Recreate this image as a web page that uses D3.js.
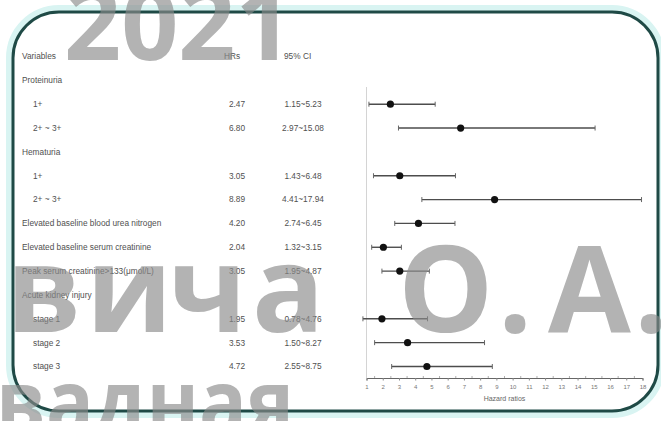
<!DOCTYPE html>
<html>
<head>
<meta charset="utf-8">
<script src="https://cdn.jsdelivr.net/npm/d3@7/dist/d3.min.js"></script>
<style>
  html, body { margin: 0; padding: 0; background: #ffffff; }
  svg { display: block; }
</style>
</head>
<body>
<svg id="chart" width="661" height="421"></svg>
<script>
// Forest plot rows (group headers carry no estimate)
const rowLabels = [
  "Proteinuria", "1+", "2+ ~ 3+",
  "Hematuria", "1+", "2+ ~ 3+",
  "Elevated baseline blood urea nitrogen",
  "Elevated baseline serum creatinine",
  "Peak serum creatinine>133(μmol/L)",
  "Acute kidney injury", "stage 1", "stage 2", "stage 3"
];
const rowIndent = [0, 1, 1, 0, 1, 1, 0, 0, 0, 0, 1, 1, 1];
const hazardRatios = [null, 2.47, 6.80, null, 3.05, 8.89, 4.20, 2.04, 3.05, null, 1.95, 3.53, 4.72];
const ciLower      = [null, 1.15, 2.97, null, 1.43, 4.41, 2.74, 1.32, 1.95, null, 0.78, 1.50, 2.55];
const ciUpper      = [null, 5.23, 15.08, null, 6.48, 17.94, 6.45, 3.15, 4.87, null, 4.76, 8.27, 8.75];
const columnHeaders = ["Variables", "HRs", "95% CI"];
const axisTickValues = d3.range(1, 19);
const axisTitle = "Hazard ratios";
const watermarks = ["2021", "овича О.А.", "вадная"];

const svg = d3.select("#chart");

// Frame glow and border
const frame = { x: 13, y: 12, w: 645, h: 399, r: 46 };
svg.append("rect")
  .attr("x", frame.x - 3).attr("y", frame.y - 3)
  .attr("width", frame.w + 6).attr("height", frame.h + 6)
  .attr("rx", frame.r + 3)
  .attr("fill", "none").attr("stroke", "#d9f4f2").attr("stroke-width", 8);
svg.append("rect")
  .attr("x", frame.x).attr("y", frame.y)
  .attr("width", frame.w).attr("height", frame.h)
  .attr("rx", frame.r)
  .attr("fill", "#ffffff").attr("stroke", "#1f4a46").attr("stroke-width", 3);

// Scales
const x = d3.scaleLinear().domain([1, 18]).range([366.5, 642.5]);
const y = d3.scalePoint().domain(d3.range(0, rowLabels.length + 1)).range([56.5, 366.5]);
const rowY = i => y(i + 1);
const axisY = 378;

const textColor = "#505050";
const font = "'Liberation Sans', Arial, sans-serif";

// Column headers
const headerX = [22, 224, 284];
svg.append("g").selectAll("text").data(columnHeaders).join("text")
  .attr("x", (d, i) => headerX[i]).attr("y", y(0))
  .attr("dy", "0.35em")
  .attr("font-family", font).attr("font-size", 8.3)
  .attr("fill", textColor).text(d => d);

// Row labels
const rows = svg.append("g");
rows.selectAll("text.lab").data(rowLabels).join("text")
  .attr("class", "lab")
  .attr("x", (d, i) => rowIndent[i] ? 33 : 22)
  .attr("y", (d, i) => rowY(i)).attr("dy", "0.35em")
  .attr("font-family", font).attr("font-size", 8.3)
  .attr("fill", textColor).text(d => d);

const idx = d3.range(rowLabels.length).filter(i => hazardRatios[i] !== null);

rows.selectAll("text.hr").data(idx).join("text")
  .attr("class", "hr")
  .attr("x", 237).attr("y", i => rowY(i)).attr("dy", "0.35em")
  .attr("text-anchor", "middle")
  .attr("font-family", font).attr("font-size", 8.3)
  .attr("fill", textColor).text(i => hazardRatios[i].toFixed(2));

rows.selectAll("text.ci").data(idx).join("text")
  .attr("class", "ci")
  .attr("x", 303).attr("y", i => rowY(i)).attr("dy", "0.35em")
  .attr("text-anchor", "middle")
  .attr("font-family", font).attr("font-size", 8.3)
  .attr("fill", textColor)
  .text(i => ciLower[i].toFixed(2) + "~" + ciUpper[i].toFixed(2));

// Reference line at HR = 1
svg.append("line")
  .attr("x1", x(1)).attr("x2", x(1))
  .attr("y1", 87).attr("y2", axisY)
  .attr("stroke", "#d4d4d4").attr("stroke-width", 1);

// Confidence intervals
const plot = svg.append("g");
plot.selectAll("line.ci").data(idx).join("line")
  .attr("class", "ci")
  .attr("x1", i => x(ciLower[i])).attr("x2", i => x(ciUpper[i]))
  .attr("y1", i => rowY(i)).attr("y2", i => rowY(i))
  .attr("stroke", "#4d4d4d").attr("stroke-width", 1.4);
plot.selectAll("line.capL").data(idx).join("line")
  .attr("class", "capL")
  .attr("x1", i => x(ciLower[i])).attr("x2", i => x(ciLower[i]))
  .attr("y1", i => rowY(i) - 2.5).attr("y2", i => rowY(i) + 2.5)
  .attr("stroke", "#666").attr("stroke-width", 1);
plot.selectAll("line.capU").data(idx).join("line")
  .attr("class", "capU")
  .attr("x1", i => x(ciUpper[i])).attr("x2", i => x(ciUpper[i]))
  .attr("y1", i => rowY(i) - 2.5).attr("y2", i => rowY(i) + 2.5)
  .attr("stroke", "#666").attr("stroke-width", 1);
plot.selectAll("circle").data(idx).join("circle")
  .attr("cx", i => x(hazardRatios[i])).attr("cy", i => rowY(i))
  .attr("r", 3.6).attr("fill", "#111");

// X axis
const axisG = svg.append("g").attr("transform", `translate(0,${axisY})`);
axisG.call(d3.axisBottom(x).tickValues(axisTickValues).tickSize(2.5).tickFormat(d3.format("d")));
axisG.select(".domain").attr("stroke", "#666").attr("stroke-width", 1);
axisG.selectAll(".tick line").attr("stroke", "#888");
axisG.selectAll(".tick text")
  .attr("font-family", font).attr("font-size", 6).attr("fill", "#777").attr("dy", "0.9em");
// minor ticks at half units
axisG.selectAll("line.minor").data(d3.range(1.5, 18, 1)).join("line")
  .attr("class", "minor")
  .attr("x1", d => x(d)).attr("x2", d => x(d))
  .attr("y1", 0).attr("y2", -2)
  .attr("stroke", "#999").attr("stroke-width", 0.8);

svg.append("text")
  .attr("x", (x(1) + x(18)) / 2).attr("y", 399)
  .attr("text-anchor", "middle").attr("dy", "0.35em")
  .attr("font-family", font).attr("font-size", 7)
  .attr("fill", "#666").text(axisTitle);

// Overlay lettering
const wm = svg.append("g")
  .attr("font-family", "'Open Sans', 'DejaVu Sans', sans-serif")
  .attr("font-weight", 700)
  .attr("fill", "#8a8a8a").attr("fill-opacity", 0.65);
wm.append("text").attr("x", 64).attr("y", 60).attr("font-size", 100).text(watermarks[0]);
// glyph origins along the middle line
wm.append("text")
  .attr("x", "-70 6 86 168 252 330 398 498 548 634")
  .attr("y", 332).attr("font-size", 120).text(watermarks[1]);
wm.append("text").attr("x", -4).attr("y", 434).attr("font-size", 90)
  .attr("textLength", 298).attr("lengthAdjust", "spacingAndGlyphs").text(watermarks[2]);
</script>
</body>
</html>
